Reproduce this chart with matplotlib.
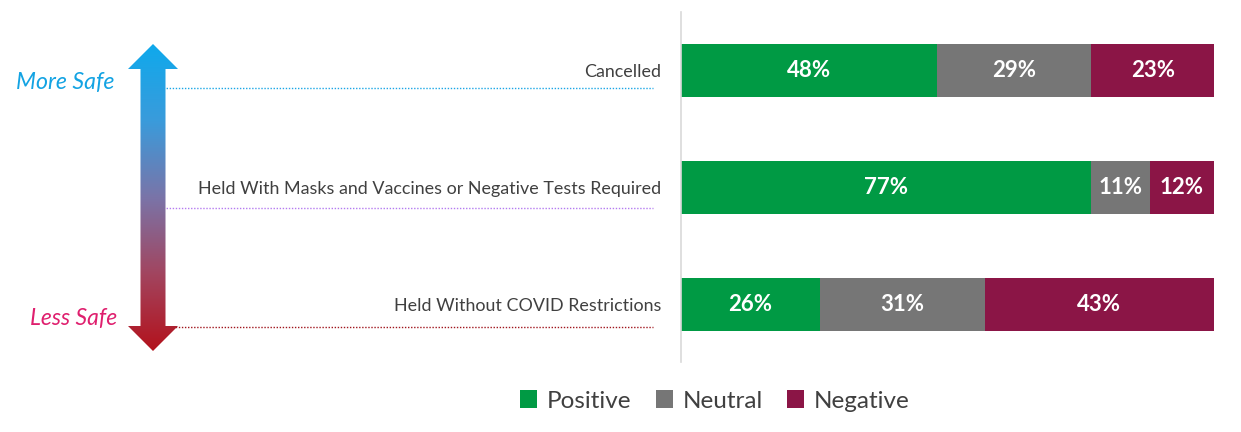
import matplotlib
matplotlib.use("Agg")
import matplotlib.pyplot as plt
import numpy as np
from matplotlib.patches import Polygon
from matplotlib.colors import LinearSegmentedColormap

categories = ["Cancelled",
              "Held With Masks and Vaccines or Negative Tests Required",
              "Held Without COVID Restrictions"]
series_names = ["Positive", "Neutral", "Negative"]
positive = [48, 77, 26]
neutral = [29, 11, 31]
negative = [23, 12, 43]
series_colors = ["#009A44", "#767676", "#8B1546"]

FONT = "Lato"
W, H = 1241, 432
fig = plt.figure(figsize=(W / 100, H / 100), dpi=100)
fig.patch.set_facecolor("white")

# main bar axes (pixel layout)
x0, x1 = 681, 1214
y_top, y_bot = 12, 362
ax = fig.add_axes([x0 / W, 1 - y_bot / H, (x1 - x0) / W, (y_bot - y_top) / H])
ypos = np.arange(len(categories))
left = np.zeros(len(categories))
for vals, name, col in zip([positive, neutral, negative], series_names, series_colors):
    bars = ax.barh(ypos, vals, left=left, height=0.455, color=col, label=name)
    for b, v, l in zip(bars, vals, left):
        ax.text(l + v / 2, b.get_y() + b.get_height() / 2, f"{v}%",
                ha="center", va="center", color="white", fontsize=16,
                fontfamily=FONT, fontweight="bold")
    left = left + np.array(vals)
ax.set_xlim(0, 100)
ax.set_ylim(2.49, -0.5)
for s in ["top", "right", "bottom"]:
    ax.spines[s].set_visible(False)
ax.spines["left"].set_color("#D9D9D9")
ax.spines["left"].set_linewidth(1.2)
ax.set_xticks([])
ax.set_yticks(ypos)
ax.set_yticklabels(categories, fontsize=12.9, color="#404040", fontfamily=FONT)
ax.tick_params(axis="y", length=0, pad=14)

leg = fig.legend(loc="center", bbox_to_anchor=(715 / W, 1 - 401 / H), ncol=3,
                 frameon=False, prop={"family": FONT, "size": 17.5},
                 handlelength=0.7, handleheight=0.7, handletextpad=0.4,
                 columnspacing=1.0, labelcolor="#404040")

# overlay axes in pixel coordinates for arrow, dotted guides, labels
ov = fig.add_axes([0, 0, 1, 1], zorder=-1)
ov.set_xlim(0, W)
ov.set_ylim(H, 0)
ov.axis("off")

guide_y = [88, 208, 327]
guide_c = ["#1AA7E6", "#B57BF0", "#A0161E"]
for gy, gc in zip(guide_y, guide_c):
    ov.plot([160, 653], [gy, gy], color=gc, lw=1.0, ls=(0, (1, 1.2)))

cx = 153
shaft_hw, head_hw = 12.5, 25
top_tip, top_base = 44, 69
bot_base, bot_tip = 326, 351
pts = [(cx, top_tip), (cx + head_hw, top_base), (cx + shaft_hw, top_base),
       (cx + shaft_hw, bot_base), (cx + head_hw, bot_base), (cx, bot_tip),
       (cx - head_hw, bot_base), (cx - shaft_hw, bot_base), (cx - shaft_hw, top_base),
       (cx - head_hw, top_base)]
poly = Polygon(pts, closed=True, facecolor="none", edgecolor="none")
ov.add_patch(poly)
cmap = LinearSegmentedColormap.from_list(
    "safe", [(0, "#0FA9EC"), (0.25, "#3A9BDB"), (0.5, "#7A74A8"),
             (0.75, "#A2455F"), (1.0, "#B3121C")])
grad = np.linspace(0, 1, 256).reshape(-1, 1)
im = ov.imshow(grad, cmap=cmap, aspect="auto",
               extent=(cx - head_hw, cx + head_hw, bot_tip, top_tip), zorder=3)
im.set_clip_path(poly)
ov.set_xlim(0, W)
ov.set_ylim(H, 0)

ov.text(115, 83, "More Safe", ha="right", va="center", color="#13A3E3",
        fontsize=16.7, fontstyle="italic", fontfamily=FONT)
ov.text(117, 318, "Less Safe", ha="right", va="center", color="#DF1F6E",
        fontsize=16.5, fontstyle="italic", fontfamily=FONT)

fig.savefig("out.png", dpi=100, facecolor="white")
